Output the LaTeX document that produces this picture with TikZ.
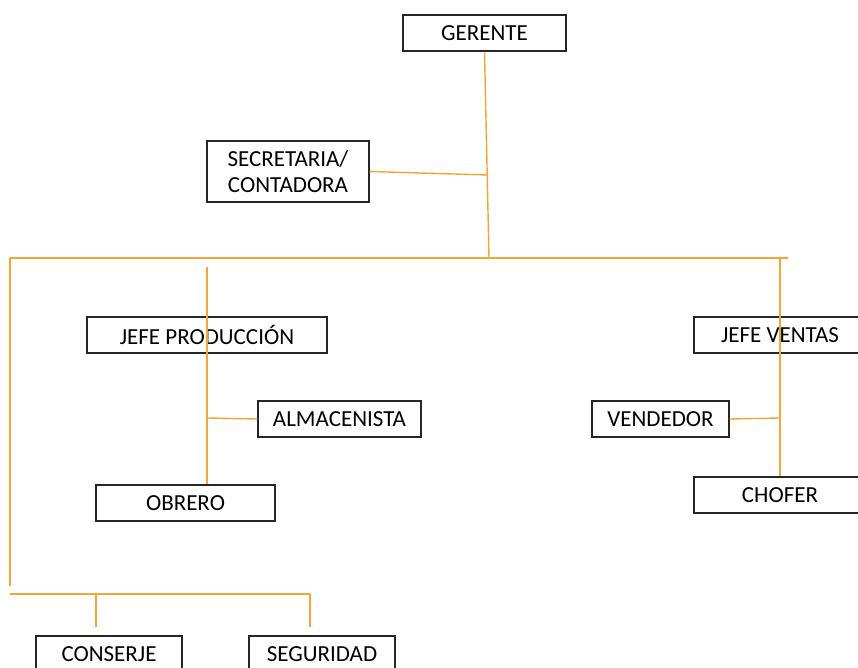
\documentclass[tikz,border=0pt]{standalone}
\usepackage{fontspec}
\setmainfont{Carlito}
\definecolor{conn}{RGB}{245,166,50}
\begin{document}
\begin{tikzpicture}[x=1pt,y=-1pt,
  box/.style={draw=black!85,line width=1.2pt,inner sep=0pt,align=center,
    font=\fontsize{23}{26}\selectfont},
  wire/.style={draw=conn,line width=1.4pt}]
\useasboundingbox (0,0) rectangle (858,668);
\fill[white] (0,0) rectangle (858,668);
% nodes
\node[box,minimum width=163,minimum height=36] (ger) at (484.5,33) {GERENTE};
\node[box,minimum width=162,minimum height=61] (sec) at (288,171.5) {SECRETARIA/\\CONTADORA};
\node[box,minimum width=240,minimum height=36] (jp) at (207,335) {JEFE PRODUCCI\'ON};
\node[box,minimum width=172,minimum height=36] (jv) at (780,335) {JEFE VENTAS};
\node[box,minimum width=163,minimum height=36] (alm) at (339.5,419) {ALMACENISTA};
\node[box,minimum width=179,minimum height=36] (obr) at (185.5,503) {OBRERO};
\node[box,minimum width=137,minimum height=36] (ven) at (660.5,419) {VENDEDOR};
\node[box,minimum width=172,minimum height=36] (cho) at (780,495) {CHOFER};
\node[box,minimum width=146,minimum height=36] (con) at (109,654) {CONSERJE};
\node[box,minimum width=146,minimum height=36] (seg) at (322,654) {SEGURIDAD};
% junctions
\coordinate (jg) at (489,258);
\coordinate (js) at (488,175);
\coordinate (bl) at (10,258);
\coordinate (br) at (788,258);
\coordinate (bd) at (10,586);
\coordinate (pt) at (207,267);
\coordinate (pa) at (207,418);
\coordinate (vt) at (780,258);
\coordinate (va) at (780,418);
\coordinate (ql) at (10,594);
\coordinate (qr) at (310,594);
\coordinate (qc) at (96,594);
\coordinate (qce) at (96,627);
\coordinate (qse) at (310,627);
% connectors
\draw[wire] (ger.south) -- (jg);
\draw[wire] (sec.east) -- (js);
\draw[wire] (bl) -- (br);
\draw[wire] (bl) -- (bd);
\draw[wire] (pt) -- (pt |- obr.north);
\draw[wire] (pa) -- (alm.west);
\draw[wire] (vt) -- (vt |- cho.north);
\draw[wire] (ven.east) -- (va);
\draw[wire] (ql) -- (qr);
\draw[wire] (qc) -- (qce);
\draw[wire] (qr) -- (qse);
\end{tikzpicture}
\end{document}
